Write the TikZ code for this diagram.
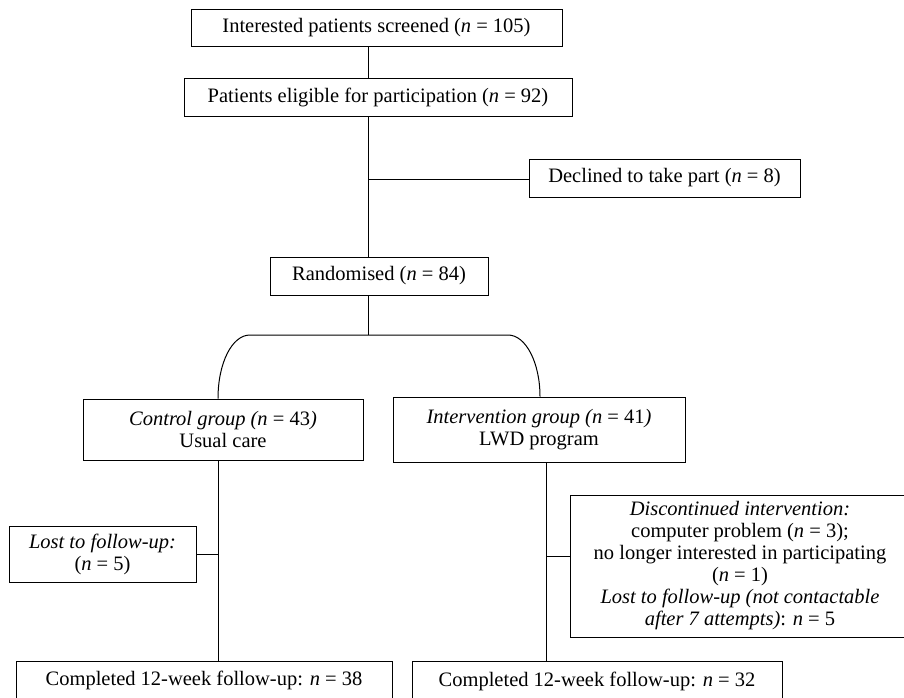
\documentclass[tikz,border=0pt]{standalone}
\usepackage{fontspec}
\setmainfont{Liberation Serif}
\begin{document}
\begin{tikzpicture}[x=1pt,y=-1pt,
  box/.style={draw, line width=1pt, inner sep=0pt, align=center, anchor=center,
    font=\fontsize{20.5}{22}\selectfont},
  conn/.style={line width=1pt}]
\useasboundingbox (0,0) rectangle (904,697);
\clip (0,0) rectangle (904,697);
% nodes
\node[box, minimum width=371, minimum height=37] (screen) at (376.5,27.5)
  {Interested patients screened (\textit{n} = 105)};
\node[box, minimum width=388, minimum height=38] (elig) at (378,97)
  {Patients eligible for participation (\textit{n} = 92)};
\node[box, minimum width=271, minimum height=38] (decl) at (664.5,178)
  {Declined to take part (\textit{n} = 8)};
\node[box, minimum width=218, minimum height=38] (rand) at (379,276)
  {Randomised (\textit{n} = 84)};
\node[box, minimum width=280, minimum height=61] (ctrl) at (223,429.5)
  {\textit{Control group (n} = 43\textit{)}\\Usual care};
\node[box, minimum width=292, minimum height=65] (intv) at (539,429.5)
  {\textit{Intervention group (n} = 41\textit{)}\\LWD program};
\node[box, minimum width=187, minimum height=56] (lost) at (102.5,554)
  {\textit{Lost to follow-up:}\\(\textit{n} = 5)};
\node[box, minimum width=340, minimum height=142] (disc) at (740,566)
  {\textit{Discontinued intervention:}\\computer problem (\textit{n} = 3);\\no longer interested in participating\\(\textit{n} = 1)\\\textit{Lost to follow-up (not contactable}\\\textit{after 7 attempts)}: \textit{n} = 5};
\node[box, minimum width=376, minimum height=39] (compa) at (204,680.5)
  {Completed 12-week follow-up: \textit{n} = 38};
\node[box, minimum width=370, minimum height=39] (compb) at (597,681)
  {Completed 12-week follow-up: \textit{n} = 32};
% reference coordinates
\coordinate (tx) at (368,0);
\coordinate (lx) at (218,0);
\coordinate (rx) at (546,0);
\coordinate (split) at (368,335);
\coordinate (branch) at (368,179);
% connectors
\draw[conn] (screen.south -| tx) -- (elig.north -| tx);
\draw[conn] (elig.south -| tx) -- (rand.north -| tx);
\draw[conn] (branch) -- (branch -| decl.west);
\draw[conn] (rand.south -| tx) -- (split);
\draw[conn] (ctrl.north -| lx) .. controls (218,363) and (232,335) .. (250,335)
  -- (508,335) .. controls (526,335) and (540,363) .. (intv.north -| 540,0);
\draw[conn] (ctrl.south -| lx) -- (compa.north -| lx);
\draw[conn] (lost.east) -- (lost.east -| lx);
\draw[conn] (intv.south -| rx) -- (compb.north -| rx);
\draw[conn] (disc.west |- 0,556) -- (rx |- 0,556);
\end{tikzpicture}
\end{document}
